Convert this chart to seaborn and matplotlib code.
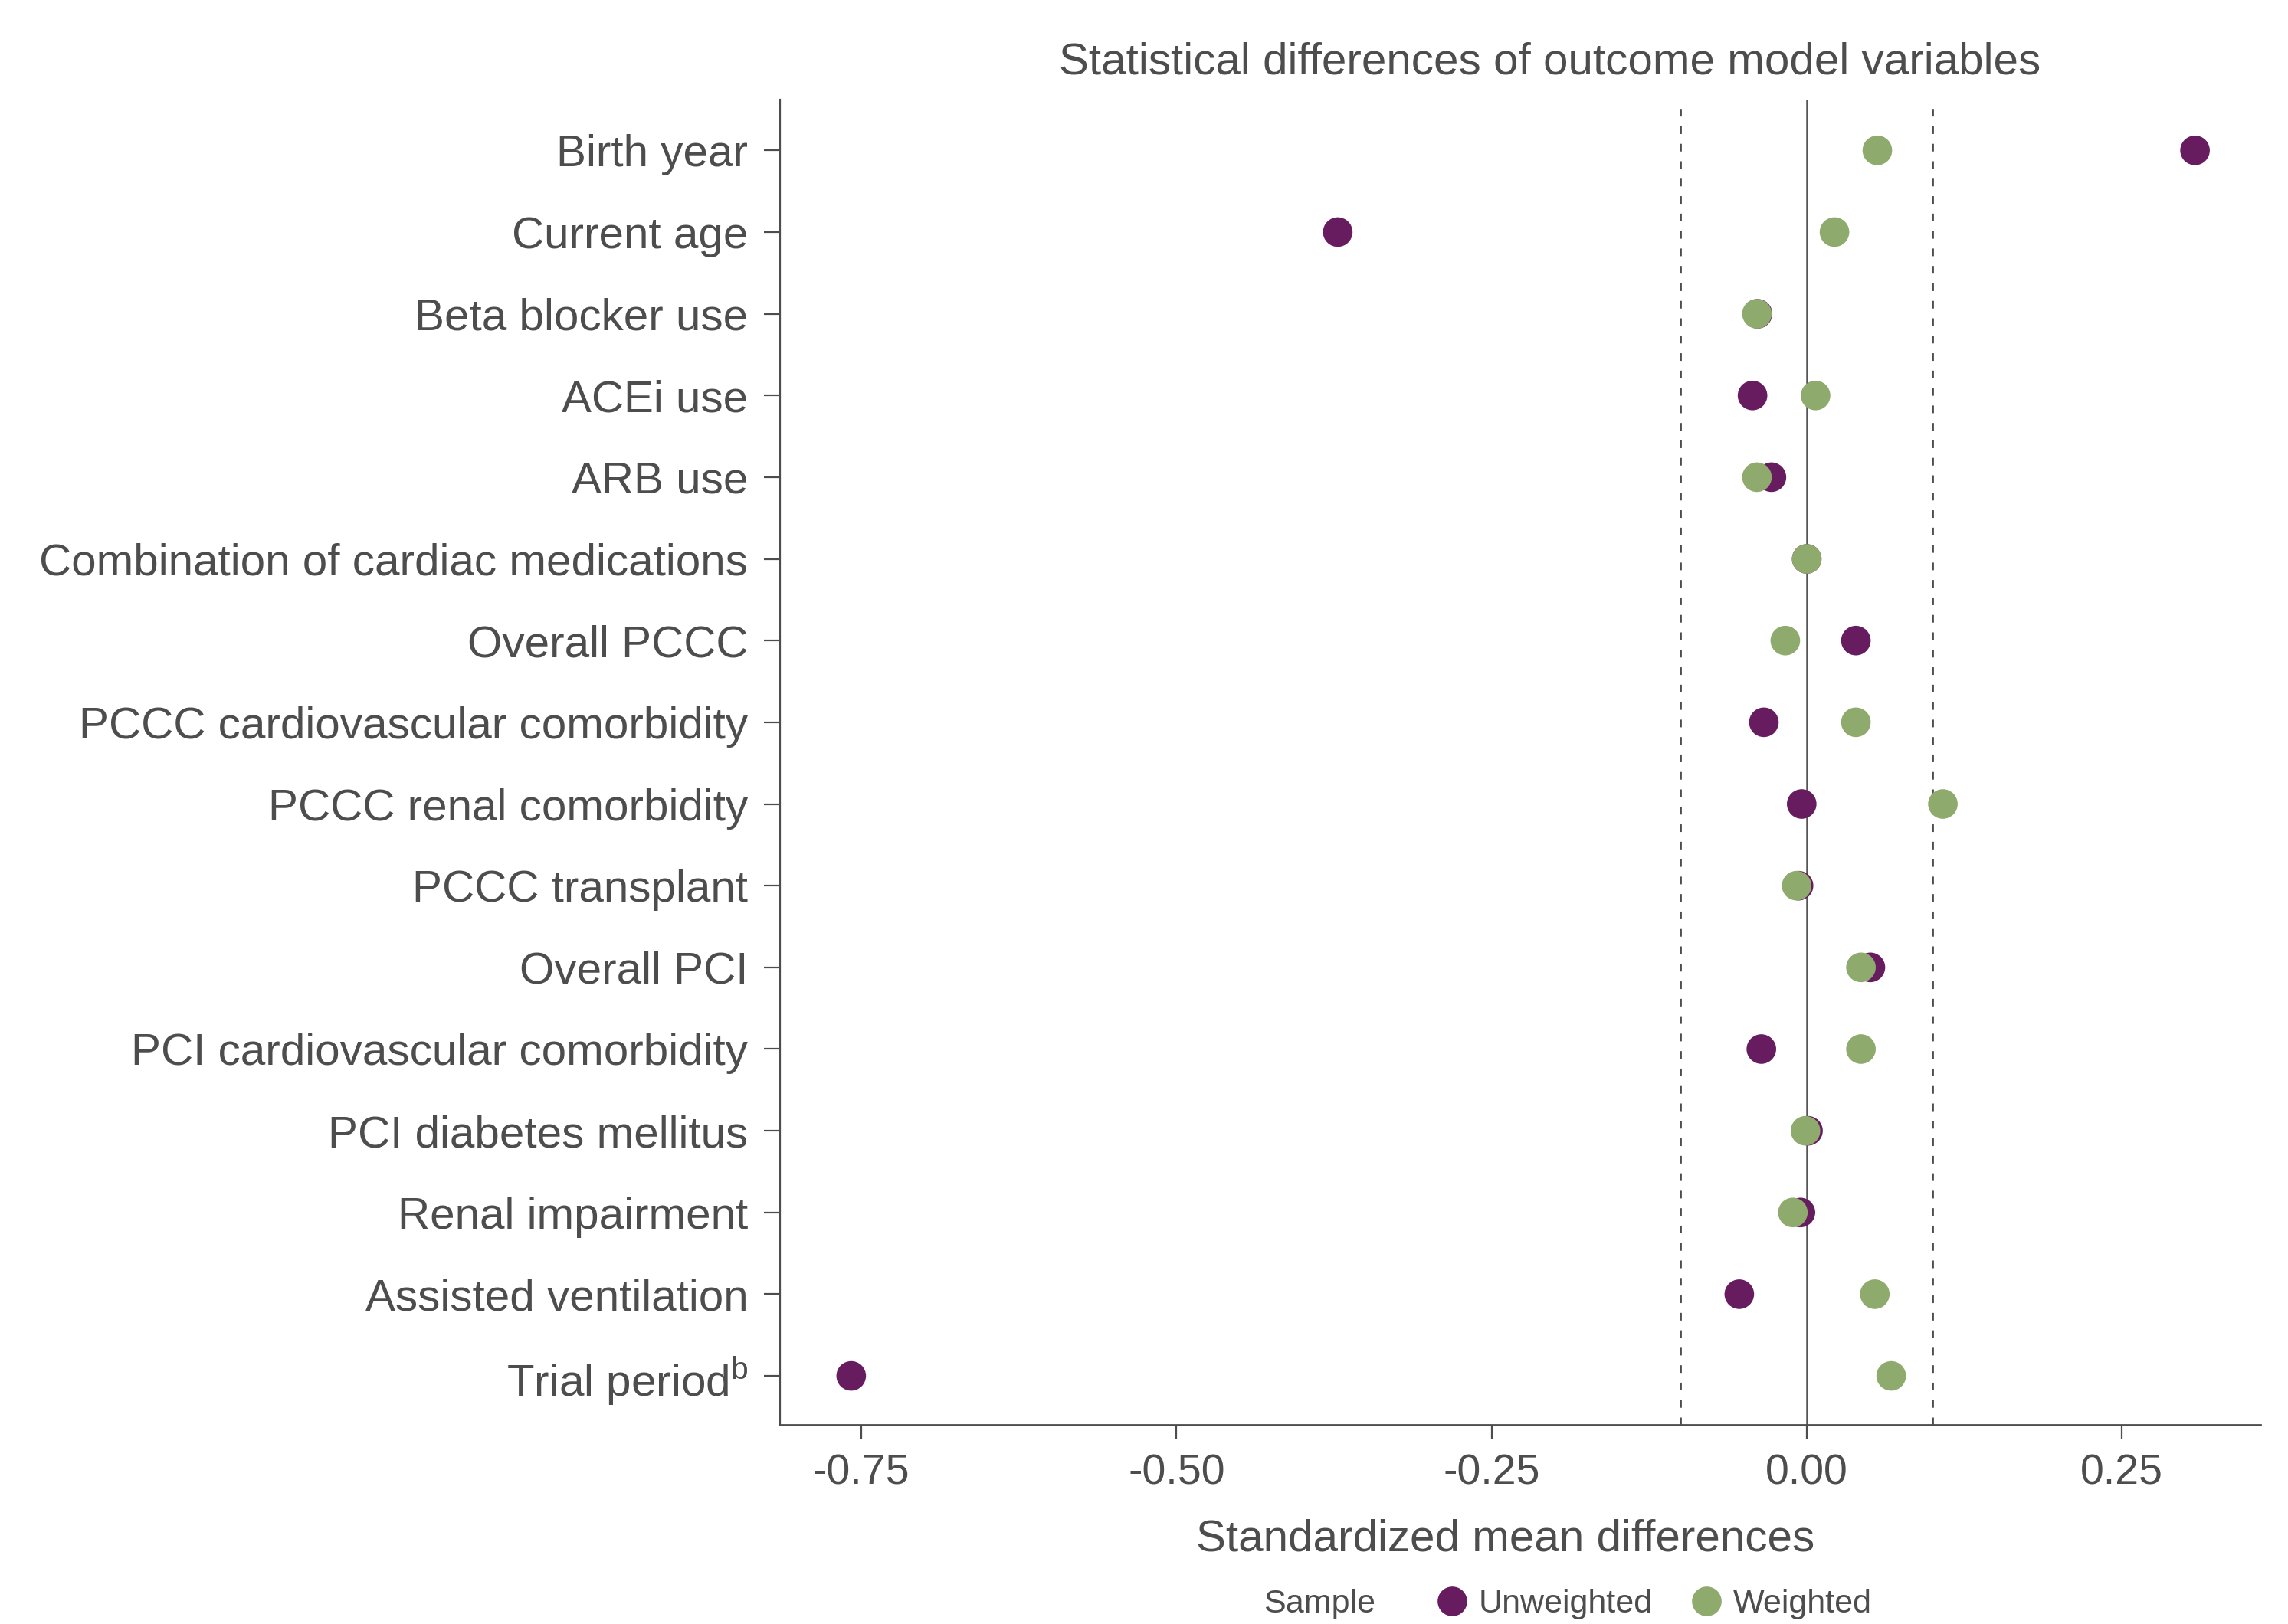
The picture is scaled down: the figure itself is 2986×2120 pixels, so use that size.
import matplotlib
matplotlib.use("Agg")
import matplotlib.pyplot as plt
from matplotlib.lines import Line2D
import seaborn as sns
import pandas as pd

variables = [
    "Birth year", "Current age", "Beta blocker use", "ACEi use", "ARB use",
    "Combination of cardiac medications", "Overall PCCC",
    "PCCC cardiovascular comorbidity", "PCCC renal comorbidity",
    "PCCC transplant", "Overall PCI", "PCI cardiovascular comorbidity",
    "PCI diabetes mellitus", "Renal impairment", "Assisted ventilation",
    "Trial period$^{\\mathrm{b}}$",
]
unweighted = [0.308, -0.372, -0.039, -0.043, -0.028, 0.000, 0.039, -0.034,
              -0.004, -0.0065, 0.0505, -0.036, 0.001, -0.005, -0.0535, -0.758]
weighted = [0.056, 0.022, -0.0395, 0.007, -0.0395, 0.000, -0.017, 0.039,
            0.108, -0.008, 0.043, 0.043, -0.001, -0.011, 0.054, 0.067]
samples = ["Unweighted", "Weighted"]
colors = ["#661c5f", "#8eaa6c"]
xticks = [-0.75, -0.50, -0.25, 0.00, 0.25]

df = pd.DataFrame({
    "variable": variables * 2,
    "smd": unweighted + weighted,
    "Sample": [samples[0]] * len(variables) + [samples[1]] * len(variables),
})

sns.set_theme(style="ticks")
txt = "#4d4d4d"
plt.rcParams["font.family"] = ["Liberation Sans", "DejaVu Sans"]
plt.rcParams["mathtext.fontset"] = "custom"
plt.rcParams["mathtext.rm"] = "Liberation Sans"
plt.rcParams["text.color"] = txt
plt.rcParams["axes.labelcolor"] = txt
plt.rcParams["xtick.color"] = txt
plt.rcParams["ytick.color"] = txt
plt.rcParams["axes.edgecolor"] = txt

fig = plt.figure(figsize=(14.93, 10.6), dpi=200)
ax = fig.add_axes([0.341, 0.1226, 0.647, 0.8160])

ax.axvline(0, color="#555555", lw=0.9, zorder=1)
for v in (-0.1, 0.1):
    ax.axvline(v, color="#4d4d4d", lw=1.0, dashes=(3.6, 4.6), zorder=1)

sns.stripplot(data=df, x="smd", y="variable", hue="Sample", order=variables,
              hue_order=samples, palette=colors, jitter=False, dodge=False,
              size=13.9, linewidth=0, ax=ax, legend=False, zorder=3)

ax.set_xlim(-0.8143, 0.360)
ax.set_ylim(15.6, -0.62)
ax.set_xticks(xticks)
ax.set_xticklabels([f"{t:.2f}" for t in xticks])
ax.tick_params(axis="x", labelsize=20, length=6.5, width=0.8, pad=7)
ax.tick_params(axis="y", labelsize=21, length=7.6, width=0.8, pad=7.5)
ax.set_xlabel("Standardized mean differences", fontsize=21)
ax.xaxis.set_label_coords(0.49, -0.071)
ax.set_ylabel("")
ax.set_title("Statistical differences of outcome model variables",
             fontsize=21, x=0.52, pad=12)
for s in ("top", "right"):
    ax.spines[s].set_visible(False)
ax.spines["left"].set_linewidth(0.8)
ax.spines["bottom"].set_linewidth(1.0)

leg_y = 0.0122
fig.text(0.5523, leg_y, "Sample", fontsize=15.5, ha="left", va="center")
handles = []
for c in colors:
    handles.append(Line2D([], [], linestyle="none", marker="o",
                          markerfacecolor=c, markeredgewidth=0, markersize=13.9))
fig.legend(handles, samples, ncol=2, loc="center left",
           bbox_to_anchor=(0.6274, leg_y), frameon=False, fontsize=15.5,
           borderaxespad=0, borderpad=0,
           handlelength=1.0, handletextpad=0.3, columnspacing=1.14)

fig.savefig("out.png", dpi=200)
